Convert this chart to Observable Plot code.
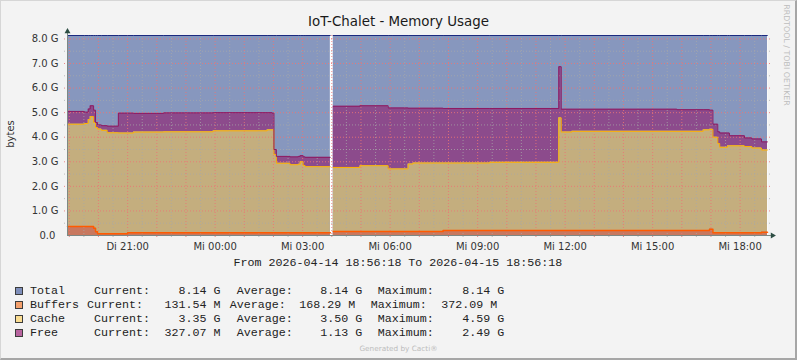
<!DOCTYPE html>
<html><head><meta charset="utf-8">
<script src="https://cdn.jsdelivr.net/npm/d3@7"></script>
<script src="https://cdn.jsdelivr.net/npm/@observablehq/plot@0.6"></script>
<style>
html,body{margin:0;padding:0;background:#F3F3F3;}
#wrap{position:relative;width:797px;height:360px;background:#F3F3F3;overflow:hidden;font-family:"DejaVu Sans",sans-serif;}
#border{position:absolute;left:0;top:0;width:797px;height:360px;box-sizing:border-box;border-top:1px solid #d6d6d6;border-left:1px solid #d6d6d6;border-right:2px solid #a6a6a6;border-bottom:2px solid #a6a6a6;pointer-events:none;}
#chart{position:absolute;left:0;top:0;}
.abs{position:absolute;white-space:pre;}
.mono{font-family:"Liberation Mono",monospace;font-size:11.67px;line-height:14px;color:#222;}
</style></head><body><div id="wrap"><div id="chart"></div><div id="border"></div></div>
<script>
// ---- data (values in G) ----
const times = [
  "2026-04-14 18:56:18","2026-04-14 19:31:00","2026-04-14 19:39:00","2026-04-14 19:43:00",
  "2026-04-14 19:50:00","2026-04-14 19:54:00","2026-04-14 19:58:00","2026-04-14 20:06:00",
  "2026-04-14 20:18:00","2026-04-14 20:41:00","2026-04-14 21:00:00","2026-04-14 21:12:00",
  "2026-04-14 22:14:00","2026-04-14 23:56:00","2026-04-15 01:47:00","2026-04-15 01:57:00",
  "2026-04-15 02:01:00","2026-04-15 02:06:00","2026-04-15 02:34:00","2026-04-15 02:51:00",
  "2026-04-15 02:55:00","2026-04-15 03:01:00","2026-04-15 03:05:00","2026-04-15 03:57:00",
  "2026-04-15 03:59:00","2026-04-15 04:03:00","2026-04-15 04:58:00","2026-04-15 05:56:00",
  "2026-04-15 06:04:00","2026-04-15 06:37:00","2026-04-15 06:47:00","2026-04-15 07:49:00",
  "2026-04-15 09:25:00","2026-04-15 11:47:00","2026-04-15 11:52:00","2026-04-15 12:14:00",
  "2026-04-15 15:50:00","2026-04-15 16:44:00","2026-04-15 16:57:00","2026-04-15 17:04:00",
  "2026-04-15 17:14:00","2026-04-15 17:18:00","2026-04-15 17:34:00","2026-04-15 17:38:00",
  "2026-04-15 18:09:00","2026-04-15 18:24:00","2026-04-15 18:44:00","2026-04-15 18:56:18"
];
const totalG = [8.14,8.14,8.14,8.14,8.14,8.14,8.14,8.14,8.14,8.14,8.14,8.14,8.14,8.14,8.14,8.14,
  8.14,8.14,8.14,8.14,8.14,8.14,8.14,8.14,null,8.14,8.14,8.14,8.14,8.14,8.14,8.14,
  8.14,8.14,8.14,8.14,8.14,8.14,8.14,8.14,8.14,8.14,8.14,8.14,8.14,8.14,8.14,8.14];
const buffersG = [0.37,0.37,0.37,0.37,0.30,0.15,0.07,0.07,0.07,0.07,0.11,0.11,0.11,0.11,0.11,0.11,
  0.11,0.11,0.11,0.11,0.11,0.11,0.11,0.11,null,0.16,0.16,0.16,0.16,0.16,0.16,0.20,
  0.20,0.20,0.20,0.20,0.20,0.20,0.25,0.11,0.11,0.11,0.11,0.11,0.11,0.11,0.13,0.13];
const cacheG = [4.16,4.19,4.35,4.47,4.30,4.25,4.26,4.21,4.11,4.10,4.06,4.10,4.11,4.15,4.19,4.19,
  3.19,2.83,2.77,2.79,2.89,2.74,2.69,2.69,null,2.61,2.68,2.55,2.55,2.75,2.79,2.75,
  2.78,4.59,4.01,4.04,4.04,4.10,4.07,3.89,3.63,3.48,3.54,3.54,3.51,3.45,3.35,3.35];
const freeG = [0.52,0.46,0.43,0.44,0.50,0.20,0.17,0.19,0.27,0.81,0.81,0.76,0.77,0.74,0.70,0.68,
  0.20,0.28,0.32,0.32,0.25,0.35,0.38,0.38,null,2.49,2.44,2.48,2.48,2.27,2.23,2.22,
  2.19,2.08,0.93,0.90,0.88,0.82,0.78,0.53,0.48,0.58,0.52,0.41,0.35,0.37,0.33,0.33];

const tickTimes = ["2026-04-14 21:00:00","2026-04-15 00:00:00","2026-04-15 03:00:00","2026-04-15 06:00:00",
  "2026-04-15 09:00:00","2026-04-15 12:00:00","2026-04-15 15:00:00","2026-04-15 18:00:00"];
const tickLabels = ["Di 21:00","Mi 00:00","Mi 03:00","Mi 06:00","Mi 09:00","Mi 12:00","Mi 15:00","Mi 18:00"];
const yTicks = [0,1,2,3,4,5,6,7,8];
const yTickLabels = ["0.0\u00a0","1.0 G","2.0 G","3.0 G","4.0 G","5.0 G","6.0 G","7.0 G","8.0 G"];

const legendNames = ["Total","Buffers","Cache","Free"];
const legendColors = ["#7E8EBA","#F4A06C","#FADD92","#B8649F"];
const legendCurrent = ["8.14 G","131.54 M","3.35 G","327.07 M"];
const legendAverage = ["8.14 G","168.29 M","3.50 G","1.13 G"];
const legendMaximum = ["8.14 G","372.09 M","4.59 G","2.49 G"];

const titleText = "IoT-Chalet - Memory Usage";
const yLabelText = "bytes";
const watermark = "RRDTOOL / TOBI OETIKER";
const footer = "Generated by Cacti\u00ae";

// ---- build ----
const parse = d3.utcParse("%Y-%m-%d %H:%M:%S");
const rows = times.map((s, i) => {
  const b = buffersG[i], c = cacheG[i], f = freeG[i];
  const ok = b != null;
  return {t: parse(s), total: totalG[i], b: ok ? b : null, bc: ok ? b + c : null, bcf: ok ? b + c + f : null};
});
const start = parse(times[0]);
const end = parse(times[times.length - 1]);
const tickDates = tickTimes.map(parse);
const majorX = d3.utcHour.range(d3.utcHour.ceil(start), end);
const minorX = d3.utcMinute.every(30).range(start, end).filter(d => d.getUTCMinutes() === 30);
const majorY = [1,2,3,4,5,6,7,8];
const minorY = [0.5,1.5,2.5,3.5,4.5,5.5,6.5,7.5];
const yMax = 8.14;

const gridMinor = {stroke: "#a8a8a8", strokeOpacity: 0.75, strokeDasharray: "1,2"};
const gridMajor = {stroke: "#ec7474", strokeOpacity: 0.85, strokeDasharray: "1,2"};

const chart = Plot.plot({
  width: 797, height: 256,
  marginLeft: 67, marginRight: 30, marginTop: 35, marginBottom: 21,
  x: {type: "utc", domain: [start, end]},
  y: {domain: [0, yMax]},
  style: {background: "transparent", fontFamily: "DejaVu Sans", fontSize: "10px", color: "#333", overflow: "visible"},
  marks: [
    Plot.frame({fill: "white", stroke: null}),
    Plot.areaY(rows, {x: "t", y1: d => 0, y2: "total", fill: "#8797BE", curve: "step-after"}),
    Plot.areaY(rows, {x: "t", y1: "bc", y2: "bcf", fill: "#8C4B8C", curve: "step-after"}),
    Plot.areaY(rows, {x: "t", y1: "b", y2: "bc", fill: "#C4AE7E", curve: "step-after"}),
    Plot.areaY(rows, {x: "t", y1: d => 0, y2: "b", fill: "#C8785F", curve: "step-after"}),
    Plot.ruleY(minorY, {...gridMinor, insetLeft: -3, insetRight: -3}),
    Plot.ruleX(minorX, {...gridMinor, insetBottom: -3}),
    Plot.ruleY(majorY, {...gridMajor, insetLeft: -3, insetRight: -3}),
    Plot.ruleX(majorX, {...gridMajor, insetBottom: -3}),
    Plot.lineY(rows, {x: "t", y: "b", stroke: "#FF5A00", strokeWidth: 1.5, curve: "step-after"}),
    Plot.lineY(rows, {x: "t", y: "bc", stroke: "#FFB000", strokeWidth: 1, curve: "step-after"}),
    Plot.lineY(rows, {x: "t", y: "bcf", stroke: "#8E1A62", strokeWidth: 1, curve: "step-after"}),
    Plot.lineY(rows, {x: "t", y: "total", stroke: "#1C2A80", strokeWidth: 1, curve: "step-after"}),
    Plot.ruleY([0], {stroke: "#7d8884", insetRight: -4}),
    Plot.ruleX([start], {stroke: "#7d8884", insetTop: -2}),
    Plot.dot([0], {x: () => start, y: () => yMax, symbol: "triangle", r: 2.2, fill: "#2C4D43", stroke: null, dy: -4}),
    Plot.dot([0], {x: () => end, y: () => 0, symbol: "triangle", r: 2.2, fill: "#2C4D43", stroke: null, rotate: 90, dx: 5}),
    Plot.axisY({ticks: yTicks, tickSize: 0, tickPadding: 9, label: null, fill: "#333",
      tickFormat: d => yTickLabels[yTicks.indexOf(d)]}),
    Plot.axisX({ticks: tickDates, tickSize: 0, tickPadding: 7, label: null, fill: "#333",
      tickFormat: d => tickLabels[tickDates.findIndex(t => +t === +d)]})
  ]
});
document.getElementById("chart").appendChild(chart);

const wrap = document.getElementById("wrap");
function addDiv(text, css, cls) {
  const el = document.createElement("div");
  el.className = "abs" + (cls ? " " + cls : "");
  el.textContent = text;
  el.style.cssText += css;
  wrap.insertBefore(el, document.getElementById("border"));
  return el;
}
// title
addDiv(titleText, "left:0;top:13px;width:797px;text-align:center;font-size:13.4px;line-height:18px;color:#1a1a1a;");
// y label
addDiv(yLabelText, "left:-9px;top:127px;width:40px;text-align:center;font-size:10px;line-height:14px;color:#333;transform:rotate(-90deg);");
// watermark
addDiv(watermark, "left:735px;top:50px;width:102px;text-align:center;font-size:7.9px;line-height:10px;color:#bdbdbd;transform:rotate(90deg);");
// footer
addDiv(footer, "left:0;top:344px;width:797px;text-align:center;font-size:7.3px;line-height:10px;color:#bdbdbd;");
// date range
addDiv(`From ${times[0]} To ${times[times.length - 1]}`, "left:233.5px;top:256px;", "mono");

// legend
const rowY = [291, 305, 319, 333];
legendNames.forEach((name, i) => {
  const yc = rowY[i];
  const sh = name.length > 5 ? -7 : 0; // Buffers label is one column tighter
  const sw = document.createElement("div");
  sw.style.cssText = `position:absolute;left:15px;top:${yc - 4}px;width:8px;height:8px;box-sizing:border-box;border:1px solid #3c3c3c;background:${legendColors[i]};`;
  wrap.insertBefore(sw, document.getElementById("border"));
  const top = `top:${yc - 7}px;`;
  addDiv(name, `left:30px;${top}`, "mono");
  addDiv("Current:", `left:${94 + sh}px;${top}`, "mono");
  addDiv(legendCurrent[i], `left:${220.5 - 84}px;width:84px;text-align:right;${top}`, "mono");
  addDiv("Average:", `left:${236.7 + sh}px;${top}`, "mono");
  addDiv(legendAverage[i], `left:${362.3 + sh - 84}px;width:84px;text-align:right;${top}`, "mono");
  addDiv("Maximum:", `left:${377.7 + sh}px;${top}`, "mono");
  addDiv(legendMaximum[i], `left:${504.3 + sh - 84}px;width:84px;text-align:right;${top}`, "mono");
});
</script></body></html>
